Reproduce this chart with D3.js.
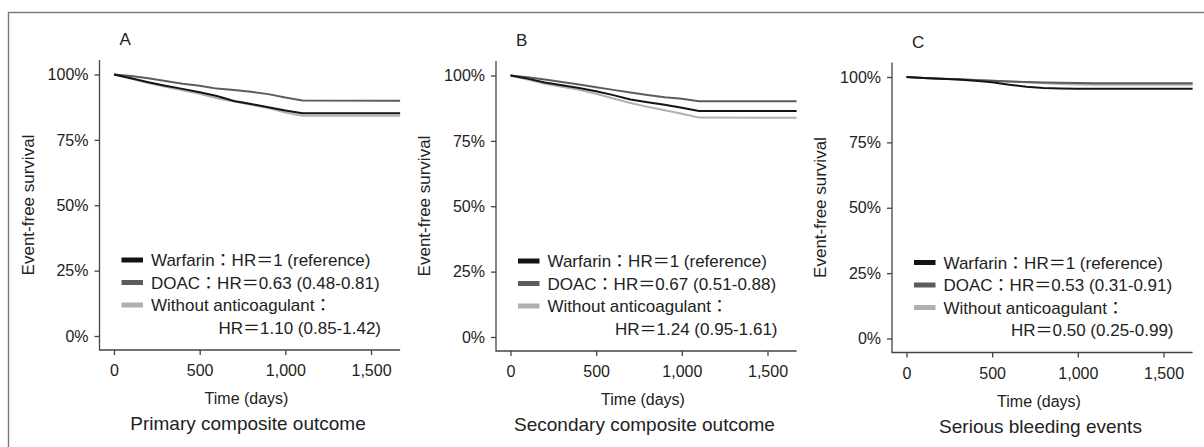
<!DOCTYPE html>
<html>
<head>
<meta charset="utf-8">
<script src="https://cdn.jsdelivr.net/npm/d3@7"></script>
<style>
  body { margin: 0; background: #fff; }
  svg { display: block; }
  text { font-family: "Liberation Sans", Arial, "Noto Sans CJK JP", sans-serif; fill: #222; }
</style>
</head>
<body>
<svg></svg>
<script>
const dims = { width: 1204, height: 447 }
const svg = d3.select('svg')
  .attr('width', dims.width)
  .attr('height', dims.height)

// follow-up times (days) where the curves were read
const times = [0, 100, 200, 300, 400, 500, 600, 700, 800, 900, 1000, 1100, 1670]

// event-free survival
const primaryWarfarin = [1, .986, .970, .957, .945, .932, .918, .899, .887, .875, .862, .852, .852]
const primaryDoac     = [1, .994, .986, .975, .965, .957, .946, .941, .934, .925, .912, .901, .900]
const primaryNone     = [1, .984, .967, .953, .940, .926, .909, .897, .884, .872, .855, .842, .842]

const secondaryWarfarin = [1, .988, .973, .963, .952, .940, .925, .908, .898, .888, .877, .864, .864]
const secondaryDoac     = [1, .993, .985, .975, .966, .955, .945, .935, .925, .917, .911, .902, .902]
const secondaryNone     = [1, .985, .968, .957, .945, .930, .912, .895, .880, .867, .854, .839, .838]

const bleedingWarfarin = [1, .996, .993, .990, .986, .980, .970, .963, .958, .956, .955, .955, .955]
const bleedingDoac     = [1, .996, .993, .991, .989, .986, .983, .981, .979, .978, .977, .976, .976]
const bleedingNone     = [1, .996, .993, .991, .989, .986, .983, .980, .976, .973, .971, .970, .970]

const panelLetters = ['A', 'B', 'C']
const panelTitles = ['Primary composite outcome', 'Secondary composite outcome', 'Serious bleeding events']
const groups = ['Warfarin', 'DOAC', 'Without anticoagulant']
const doacHR = ['HR＝0.63 (0.48-0.81)', 'HR＝0.67 (0.51-0.88)', 'HR＝0.53 (0.31-0.91)']
const noneHR = ['HR＝1.10 (0.85-1.42)', 'HR＝1.24 (0.95-1.61)', 'HR＝0.50 (0.25-0.99)']
const yTicks = [0, 0.25, 0.5, 0.75, 1]
const xTicks = [0, 500, 1000, 1500]

const series = [
  [primaryWarfarin, primaryDoac, primaryNone],
  [secondaryWarfarin, secondaryDoac, secondaryNone],
  [bleedingWarfarin, bleedingDoac, bleedingNone]
]

const colors = { Warfarin: '#141414', DOAC: '#5c5c5c', 'Without anticoagulant': '#b0b0b0' }

// outer frame
svg.append('rect')
  .attr('x', 8.5).attr('y', 12.5)
  .attr('width', 1220).attr('height', 460)
  .attr('fill', 'none').attr('stroke', '#777').attr('stroke-width', 1.4)

const panelX = [99.5, 496, 892]
const panelDy = [0, 1, 2.5]

panelLetters.forEach((letter, i) => {
  const ax = panelX[i]
  const dy = panelDy[i]
  const x0 = ax + 14.5
  const x = d3.scaleLinear().domain([0, 1500]).range([x0, x0 + 257])
  const y = d3.scaleLinear().domain([0, 1]).range([336 + dy, 74.5 + dy])
  const axisY = 350 + dy
  const g = svg.append('g')

  g.append('text')
    .attr('x', ax + 20).attr('y', 45 + dy)
    .attr('font-size', 17)
    .text(letter)

  // axes
  const yAxis = g.append('g')
    .attr('transform', `translate(${ax},0)`)
    .call(d3.axisLeft(y).tickValues(yTicks).tickFormat(d3.format('.0%')).tickSize(5).tickPadding(6))
  const xAxis = g.append('g')
    .attr('transform', `translate(0,${axisY})`)
    .call(d3.axisBottom(x).tickValues(xTicks).tickFormat(d3.format(',')).tickSize(5).tickPadding(10))
  ;[yAxis, xAxis].forEach(a => {
    a.select('.domain').remove()
    a.selectAll('line').attr('stroke', '#444').attr('stroke-width', 1.3)
    a.selectAll('text').attr('font-size', 16).attr('font-family', null).attr('fill', '#222')
  })
  g.append('path')
    .attr('d', `M${ax},${60 + dy}V${axisY}H${x(1670)}`)
    .attr('fill', 'none').attr('stroke', '#444').attr('stroke-width', 1.3)

  g.append('text')
    .attr('transform', `translate(${ax - 66},${205 + dy}) rotate(-90)`)
    .attr('text-anchor', 'middle')
    .attr('font-size', 17)
    .text('Event-free survival')

  g.append('text')
    .attr('x', x0 + 132.5).attr('y', 404 + dy)
    .attr('text-anchor', 'middle')
    .attr('font-size', 16)
    .text('Time (days)')

  g.append('text')
    .attr('x', x0 + 134).attr('y', 430 + dy)
    .attr('text-anchor', 'middle')
    .attr('font-size', 19)
    .text(panelTitles[i])

  // survival curves, light first so warfarin sits on top
  const line = d3.line()
    .x((d, j) => x(times[j]))
    .y(d => y(d))
  const order = [2, 1, 0]
  g.selectAll('path.curve').data(order.map(k => ({ name: groups[k], values: series[i][k] })))
    .enter().append('path')
      .attr('class', 'curve')
      .attr('fill', 'none')
      .attr('stroke', d => colors[d.name])
      .attr('stroke-width', 2)
      .attr('d', d => line(d.values))

  // legend
  const labels = ['Warfarin：HR＝1 (reference)', 'DOAC：' + doacHR[i], 'Without anticoagulant：']
  const rowY = [260, 282.5, 305].map(v => v + dy)
  groups.forEach((name, k) => {
    g.append('rect')
      .attr('x', ax + 22).attr('y', rowY[k] - 2.5)
      .attr('width', 21.5).attr('height', 5)
      .attr('fill', colors[name])
    g.append('text')
      .attr('x', ax + 51.5).attr('y', rowY[k])
      .attr('dy', '0.36em')
      .attr('font-size', 17)
      .text(labels[k])
  })
  g.append('text')
    .attr('x', x0 + 104.5).attr('y', 327.5 + dy)
    .attr('dy', '0.36em')
    .attr('font-size', 17)
    .text(noneHR[i])
})
</script>
</body>
</html>
